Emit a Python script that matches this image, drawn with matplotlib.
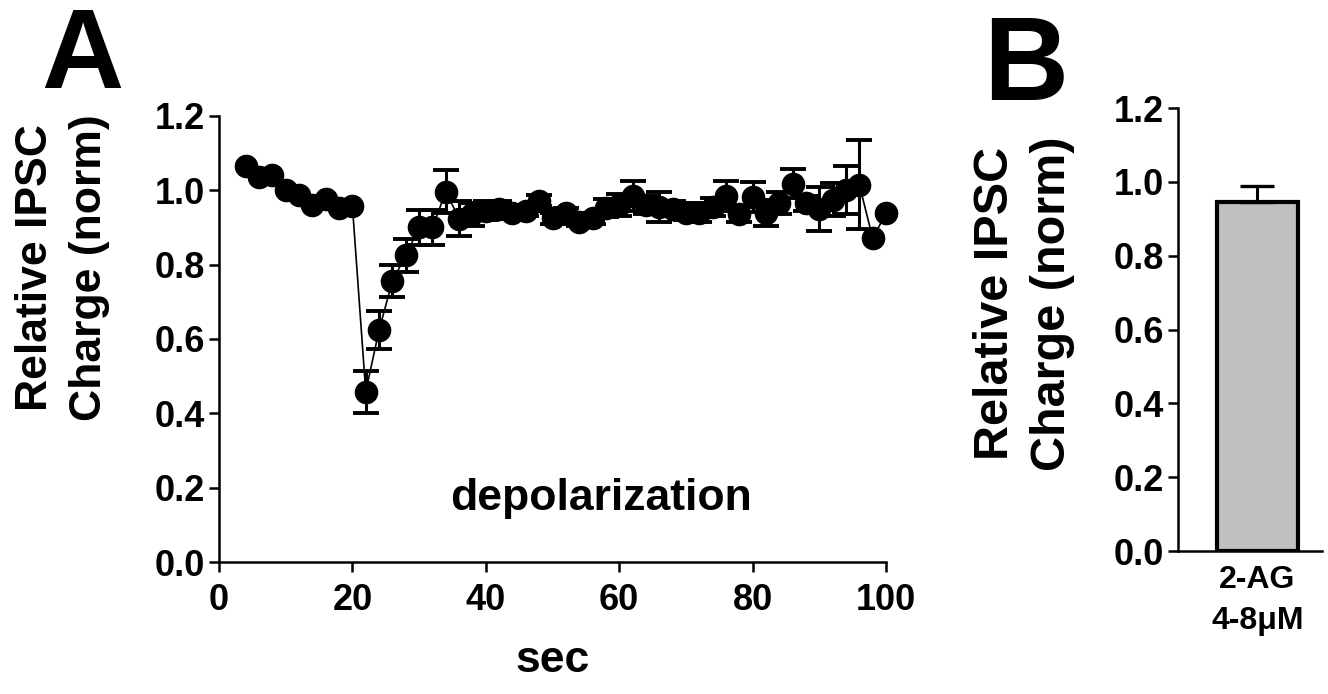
import matplotlib
matplotlib.use('Agg')
import matplotlib.pyplot as plt
import numpy as np
from matplotlib.ticker import FormatStrFormatter

plt.rcParams['font.family'] = ['Liberation Sans', 'DejaVu Sans']
plt.rcParams['font.weight'] = 'bold'

# Panel A: time course after depolarization
sec = [4, 6, 8, 10, 12, 14, 16, 18, 20, 22, 24, 26, 28, 30, 32, 34, 36, 38, 40, 42,
       44, 46, 48, 50, 52, 54, 56, 58, 60, 62, 64, 66, 68, 70, 72, 74, 76, 78, 80, 82,
       84, 86, 88, 90, 92, 94, 96, 98, 100]
charge = [1.065, 1.035, 1.04, 1.0, 0.987, 0.96, 0.976, 0.952, 0.958, 0.458, 0.624,
          0.756, 0.825, 0.90, 0.90, 0.996, 0.924, 0.935, 0.945, 0.95, 0.94, 0.945,
          0.972, 0.925, 0.938, 0.915, 0.925, 0.952, 0.96, 0.985, 0.96, 0.955, 0.95,
          0.94, 0.94, 0.955, 0.985, 0.935, 0.982, 0.94, 0.965, 1.018, 0.965, 0.95,
          0.975, 1.0, 1.015, 0.871, 0.938]
# nan = error bar hidden behind the marker
charge_err = [np.nan] * 9 + [0.056, 0.05, 0.042, 0.045, 0.047, 0.047, 0.058, 0.046,
              0.03, 0.025, 0.02, 0.015, 0.015, 0.015, 0.015, 0.015, 0.01, 0.015,
              0.025, 0.03, 0.04, 0.025, 0.04, 0.02, 0.02, 0.025, 0.025, 0.04, 0.02,
              0.04, 0.035, 0.03, 0.04, 0.02, 0.06, 0.045, 0.065, 0.12] + [np.nan] * 2

# Panel B: 2-AG bar
bar_labels = ['2-AG\n4-8\u03bcM']
bar_values = [0.945]
bar_err = [0.045]

fig = plt.figure(figsize=(13.28, 6.94), dpi=100)

tick_kw = dict(direction='out', length=7, width=1.8, labelsize=26, pad=3)

# ---- A ----
ax = fig.add_axes([0.1649, 0.1902, 0.5023, 0.6427])
ax.errorbar(sec, charge, yerr=charge_err, fmt='o-', color='black', ms=16,
            lw=1.2, elinewidth=2.2, capsize=9.5, capthick=2.8, clip_on=False)
ax.set_xlim(0, 100)
ax.set_ylim(0, 1.2)
ax.set_xticks([0, 20, 40, 60, 80, 100])
ax.set_yticks([0, 0.2, 0.4, 0.6, 0.8, 1.0, 1.2])
ax.yaxis.set_major_formatter(FormatStrFormatter('%.1f'))
ax.tick_params(**tick_kw)
ax.tick_params(axis='x', pad=8)
ax.spines['top'].set_visible(False)
ax.spines['right'].set_visible(False)
for s in ['left', 'bottom']:
    ax.spines[s].set_linewidth(1.8)
for lbl in ax.get_xticklabels() + ax.get_yticklabels():
    lbl.set_fontweight('bold')
ax.set_xlabel('sec', fontsize=32, fontweight='bold', labelpad=16)
fig.text(0.047, 0.614, 'Relative IPSC\nCharge (norm)', fontsize=32, fontweight='bold',
         rotation=90, ha='center', va='center', linespacing=1.4)
ax.text(57.3, 0.17, 'depolarization', fontsize=32, fontweight='bold',
        ha='center', va='center')
fig.text(0.062, 0.873, 'A', fontsize=82, fontweight='bold', ha='center', va='baseline')

# ---- B ----
bx = fig.add_axes([0.887, 0.206, 0.1084, 0.6383])
bx.bar([0], bar_values, width=0.8, color='#c0c0c0', edgecolor='black', linewidth=3)
bx.errorbar([0], bar_values, yerr=[[0], bar_err], fmt='none', ecolor='black',
            elinewidth=2.2, capsize=12, capthick=2.4)
bx.set_xlim(-0.785, 0.637)
bx.set_ylim(0, 1.2)
bx.set_xticks([0])
bx.set_xticklabels(bar_labels, fontsize=23, fontweight='bold', linespacing=1.5)
bx.set_yticks([0, 0.2, 0.4, 0.6, 0.8, 1.0, 1.2])
bx.yaxis.set_major_formatter(FormatStrFormatter('%.1f'))
bx.tick_params(**tick_kw)
bx.tick_params(axis='x', length=0, pad=10, labelsize=23)
bx.spines['top'].set_visible(False)
bx.spines['right'].set_visible(False)
for s in ['left', 'bottom']:
    bx.spines[s].set_linewidth(1.8)
for lbl in bx.get_yticklabels():
    lbl.set_fontweight('bold')
fig.text(0.771, 0.563, 'Relative IPSC\nCharge (norm)', fontsize=35, fontweight='bold',
         rotation=90, ha='center', va='center', linespacing=1.35)
fig.text(0.772, 0.856, 'B', fontsize=85, fontweight='bold', ha='center', va='baseline')

fig.savefig('out.png', dpi=100)
